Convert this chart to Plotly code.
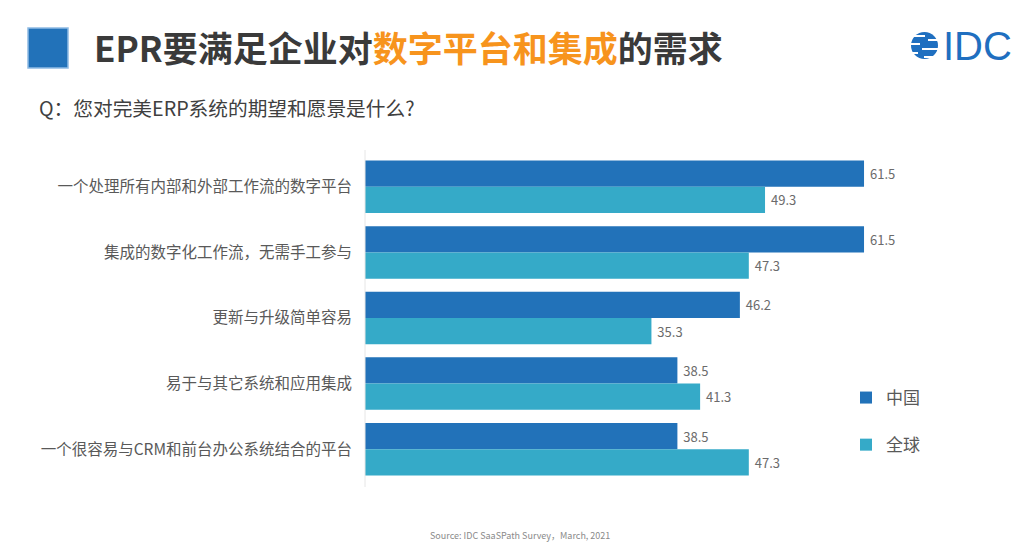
import plotly.graph_objects as go

categories = [
    "一个处理所有内部和外部工作流的数字平台",
    "集成的数字化工作流，无需手工参与",
    "更新与升级简单容易",
    "易于与其它系统和应用集成",
    "一个很容易与CRM和前台办公系统结合的平台",
]
china = [61.5, 61.5, 46.2, 38.5, 38.5]
world = [49.3, 47.3, 35.3, 41.3, 47.3]
series_names = ["中国", "全球"]

W, H = 1026, 547
C1, C2 = "#2272B9", "#35AAC8"
FONT = "Noto Sans CJK SC"

def px(x):
    return x / W

def py(y):
    return 1 - y / H

NB = "\u00a0"

fig = go.Figure()
fig.add_trace(go.Bar(y=categories, x=china, orientation="h", name=series_names[0],
                     marker=dict(color=C1, line=dict(width=0)),
                     text=[f"{NB}{v:.1f}" for v in china], textposition="outside",
                     textfont=dict(size=13, color="#6b6b6b", family=FONT),
                     cliponaxis=False, legendgroup="a"))
fig.add_trace(go.Bar(y=categories, x=world, orientation="h", name=series_names[1],
                     marker=dict(color=C2, line=dict(width=0)),
                     text=[f"{NB}{v:.1f}" for v in world], textposition="outside",
                     textfont=dict(size=13, color="#6b6b6b", family=FONT),
                     cliponaxis=False, legendgroup="b"))

fig.update_layout(
    width=W, height=H,
    margin=dict(l=0, r=0, t=0, b=0),
    paper_bgcolor="white", plot_bgcolor="white",
    barmode="group", bargap=0.2, bargroupgap=0,
    font=dict(family=FONT, color="#595959"),
    showlegend=True,
    legend=dict(x=px(846), y=py(380), xanchor="left", yanchor="top",
                font=dict(size=17, color="#595959", family=FONT),
                tracegroupgap=22, itemwidth=30, bgcolor="rgba(0,0,0,0)"),
    xaxis=dict(domain=[px(365), px(933)], range=[0, 70], visible=False, fixedrange=True),
    yaxis=dict(domain=[py(482), py(154)], autorange="reversed",
               showline=False, showgrid=False, zeroline=False, ticks="",
               ticklabelstandoff=12,
               tickfont=dict(size=15.5, color="#595959", family=FONT)),
)

# faint vertical axis line
fig.add_shape(type="line", xref="paper", yref="paper", x0=px(365), x1=px(365),
              y0=py(150), y1=py(487), line=dict(color="#e6e6e6", width=1))

# title square
fig.add_shape(type="rect", xref="paper", yref="paper", x0=px(28), x1=px(68),
              y0=py(68), y1=py(28), fillcolor="#2272B9",
              line=dict(color="#8fbbe3", width=1.5))

fig.add_annotation(xref="paper", yref="paper", x=px(92), y=py(47), xanchor="left", yanchor="middle",
                   showarrow=False,
                   text="<b>EPR要满足企业对<span style='color:#F7941D'>数字平台和集成</span>的需求</b>",
                   font=dict(size=35, color="#3a3a3a", family=FONT))
fig.add_annotation(xref="paper", yref="paper", x=px(37), y=py(108), xanchor="left", yanchor="middle",
                   showarrow=False, text="Q：您对完美ERP系统的期望和愿景是什么?",
                   font=dict(size=19.7, color="#404040", family=FONT))
fig.add_annotation(xref="paper", yref="paper", x=px(520), y=py(535), xanchor="center", yanchor="middle",
                   showarrow=False, text="Source: IDC SaaSPath Survey，March, 2021",
                   font=dict(size=9, color="#8a8a8a", family=FONT))

# IDC logo
LB = "#1F6FC0"
fig.add_shape(type="circle", xref="paper", yref="paper", x0=px(911), x1=px(938),
              y0=py(59), y1=py(32), fillcolor=LB, line=dict(width=0))
for yy, xa, xb in [(36, 911, 925), (40, 928, 940), (44, 908, 920), (49, 922, 940), (53, 908, 918), (57, 924, 940)]:
    fig.add_shape(type="line", xref="paper", yref="paper", x0=px(xa), x1=px(xb),
                  y0=py(yy), y1=py(yy), line=dict(color="white", width=2))
fig.add_annotation(xref="paper", yref="paper", x=px(941), y=py(46), xanchor="left", yanchor="middle",
                   showarrow=False, text="IDC",
                   font=dict(size=40, color=LB, family="Liberation Sans"))

fig.write_html("out.html", config={"displayModeBar": False},
               post_script="document.body.style.margin='0';document.body.style.overflow='hidden';")
